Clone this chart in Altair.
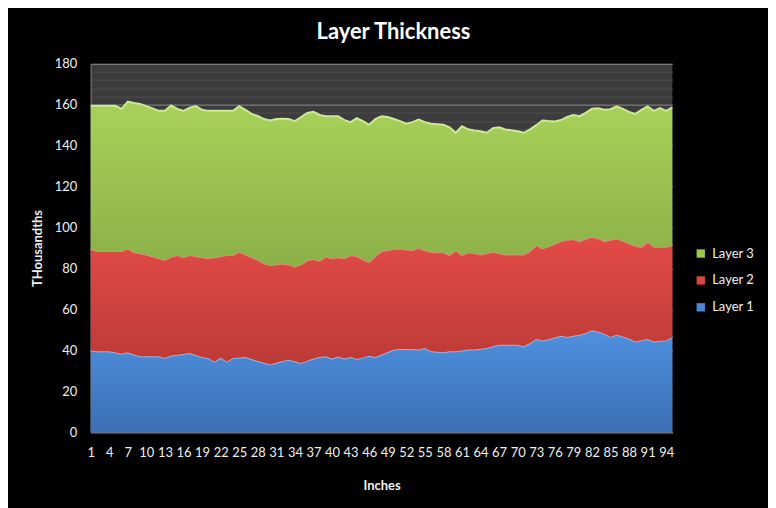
import altair as alt
import pandas as pd

inches = list(range(1, 96))

layer1 = [40.0, 39.6, 39.6, 39.6, 39.0, 38.4, 39.1, 38.0, 37.1, 37.1,
          37.1, 37.1, 36.3, 37.5, 37.9, 38.3, 38.7, 37.8, 36.8, 36.3,
          34.5, 36.5, 34.5, 36.3, 36.5, 36.8, 35.8, 34.8, 34.0, 33.1,
          34.0, 34.8, 35.5, 34.7, 33.9, 35.0, 36.0, 36.8, 37.1, 36.0,
          37.0, 36.0, 36.8, 35.8, 36.6, 37.4, 36.8, 38.0, 39.2, 40.4,
          40.7, 40.7, 40.7, 40.4, 41.2, 39.6, 39.4, 39.1, 39.6, 39.6,
          40.0, 40.4, 40.4, 40.8, 41.2, 42.0, 42.8, 42.8, 42.8, 42.8,
          42.0, 43.6, 45.6, 44.9, 45.5, 46.3, 47.2, 46.6, 47.2, 47.7,
          48.5, 49.8, 49.2, 48.2, 46.6, 47.7, 46.8, 45.8, 44.4, 45.0,
          45.6, 44.4, 44.7, 44.9, 46.6]

layer2 = [49.5, 48.9, 48.9, 48.9, 49.5, 50.1, 50.7, 49.9, 50.4, 49.7,
          48.9, 47.9, 47.9, 48.3, 48.7, 47.2, 47.9, 48.2, 48.7, 48.7,
          51.0, 49.5, 52.1, 50.3, 51.7, 50.1, 49.8, 49.5, 48.5, 48.6,
          48.0, 47.7, 46.5, 46.2, 48.1, 49.0, 48.6, 47.0, 48.7, 49.0,
          48.5, 49.0, 49.8, 50.3, 47.9, 45.9, 49.2, 50.5, 49.8, 49.1,
          49.1, 48.6, 48.2, 49.7, 47.7, 48.6, 48.6, 48.8, 47.0, 49.3,
          46.6, 47.5, 47.1, 46.1, 46.3, 46.2, 44.7, 44.1, 44.1, 44.1,
          44.9, 44.9, 45.9, 44.9, 45.3, 45.7, 46.3, 47.4, 47.2, 45.7,
          46.0, 45.7, 45.6, 45.2, 47.4, 47.0, 46.7, 46.5, 46.7, 45.6,
          47.5, 46.2, 45.9, 45.7, 44.8]

layer3 = [70.0, 71.0, 71.0, 71.0, 71.0, 69.5, 71.7, 72.9, 72.9, 72.5,
          72.2, 72.0, 72.8, 73.8, 71.4, 71.5, 71.9, 73.3, 72.0, 72.0,
          71.5, 71.0, 70.4, 70.4, 71.1, 70.6, 69.9, 70.2, 70.5, 70.6,
          71.0, 70.6, 71.0, 71.1, 72.0, 72.0, 72.0, 71.2, 68.6, 69.4,
          68.9, 67.5, 64.9, 67.3, 67.5, 66.9, 67.0, 65.9, 65.0, 63.5,
          62.2, 61.4, 62.6, 62.7, 62.6, 62.5, 62.5, 62.3, 62.4, 57.4,
          62.9, 60.1, 59.9, 60.1, 58.8, 60.3, 61.5, 61.0, 60.6, 60.1,
          59.4, 59.5, 58.5, 62.5, 61.2, 59.8, 59.0, 60.0, 60.6, 61.0,
          61.5, 62.5, 63.5, 64.2, 63.8, 64.5, 64.5, 64.2, 64.4, 66.9,
          66.1, 66.4, 67.7, 66.4, 67.3]

series = ["Layer 1", "Layer 2", "Layer 3"]
y_ticks = list(range(0, 181, 4))
x_ticks = list(range(1, 95, 3))

rows = []
for k, (name, vals) in enumerate(zip(series, [layer1, layer2, layer3])):
    for i, v in zip(inches, vals):
        rows.append({"inch": i, "layer": name, "value": v, "order": k})
df = pd.DataFrame(rows)

styles = {
    "Layer 1": ("#4f90de", "#3c6fb4", "#82b9f2"),
    "Layer 2": ("#e34b47", "#bb3a36", "#f3807c"),
    "Layer 3": ("#a8d25a", "#8bb048", "#cbeb8a"),
}
legend_colors = ["#9cc850", "#d8453f", "#4a88d6"]

FONT = "Lato"

x_enc = alt.X(
    "inch:Q",
    scale=alt.Scale(domain=[1, 95], nice=False, zero=False),
    axis=alt.Axis(
        values=x_ticks, title="Inches", grid=False, ticks=False,
        domainColor="#7a7a7a", labelColor="#f0f0f0", labelFont=FONT,
        labelFontSize=13, labelPadding=14, labelFlush=False,
        titleColor="#f0f0f0", titleFont=FONT, titleFontSize=13,
        titleFontWeight="bold", titlePadding=20,
    ),
)
y_enc = alt.Y(
    "y1:Q",
    scale=alt.Scale(domain=[0, 180], nice=False),
    axis=alt.Axis(
        values=y_ticks, title="THousandths", ticks=False,
        labelExpr="datum.value % 20 === 0 ? datum.label : ''",
        gridColor={"condition": {"test": "datum.value % 20 === 0", "value": "#8a8a8a"},
                   "value": "#4e4e4e"},
        gridWidth=1,
        domainColor="#7a7a7a", labelColor="#f0f0f0", labelFont=FONT,
        labelFontSize=13, labelPadding=14,
        titleColor="#f0f0f0", titleFont=FONT, titleFontSize=13,
        titleFontWeight="bold", titlePadding=10,
    ),
)

base = alt.Chart(df).transform_stack(
    stack="value", groupby=["inch"], as_=["y0", "y1"],
    sort=[alt.SortField("order", order="ascending")],
)

layers = []
for name in series:
    top, bottom, edge = styles[name]
    grad = alt.Gradient(
        gradient="linear",
        stops=[alt.GradientStop(color=top, offset=0),
               alt.GradientStop(color=bottom, offset=1)],
        x1=0, x2=0, y1=0, y2=1,
    )
    layers.append(
        base.transform_filter(alt.datum.layer == name)
        .mark_area(fill=grad, opacity=1, fillOpacity=1,
                   line={"color": edge, "strokeWidth": 2, "opacity": 1})
        .encode(x=x_enc, y=y_enc, y2="y0:Q")
    )

legend_layer = base.mark_square(opacity=0, size=1).encode(
    x=x_enc, y=y_enc,
    color=alt.Color(
        "layer:N",
        scale=alt.Scale(domain=["Layer 3", "Layer 2", "Layer 1"], range=legend_colors),
        legend=alt.Legend(
            title=None, orient="none", legendX=606, legendY=184,
            symbolType="square", symbolSize=70, symbolOpacity=1,
            symbolStrokeWidth=0,
            labelColor="#f0f0f0", labelFont=FONT, labelFontSize=13,
            rowPadding=13, labelOffset=5,
        ),
    ),
)

chart = alt.layer(*layers, legend_layer).properties(
    width=584, height=370,
    autosize="none",
    padding={"left": 83, "top": 55, "right": 96, "bottom": 80},
    background="black",
    title=alt.TitleParams(
        "Layer Thickness", color="white", font=FONT, fontSize=22,
        fontWeight="bold", anchor="middle", dx=12, offset=14,
    ),
).configure_view(fill="#3c3c3c", stroke=None)

chart.save("out.html", embed_options={"renderer": "svg", "actions": False})
